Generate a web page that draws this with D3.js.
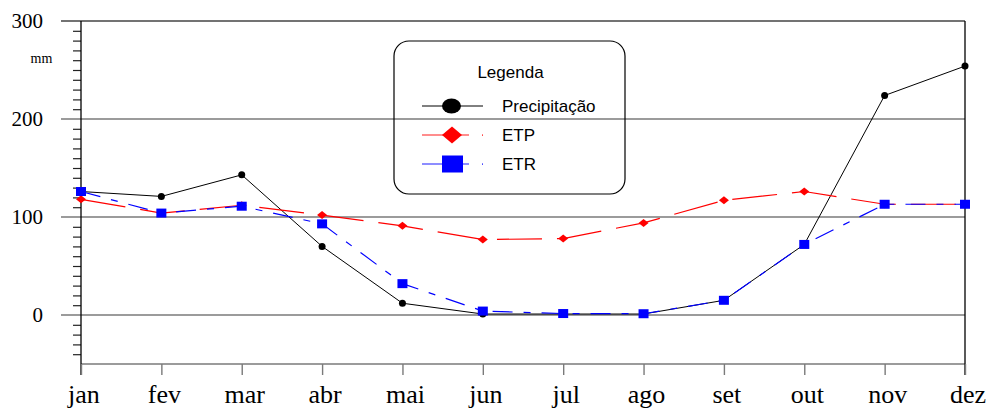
<!DOCTYPE html>
<html>
<head>
<meta charset="utf-8">
<script src="https://cdn.jsdelivr.net/npm/d3@7"></script>
<style>
  html, body { margin: 0; padding: 0; background: #fff; }
  svg { display: block; }
</style>
</head>
<body>
<svg id="chart" width="995" height="408"></svg>
<script>
// Monthly water balance: rainfall, potential and real evapotranspiration (mm)
const months = ["jan", "fev", "mar", "abr", "mai", "jun", "jul", "ago", "set", "out", "nov", "dez"];
const precipitacao = [126, 121, 143, 70, 12, 1, 1, 1, 15, 72, 224, 254];
const etp = [118, 104, 112, 102, 91, 77, 78, 94, 117, 126, 113, 113];
const etr = [126, 104, 111, 93, 32, 4, 1.5, 1.3, 15, 72, 113, 113];
const yTicks = [0, 100, 200, 300];

const SERIF = "Liberation Serif, Tinos, DejaVu Serif, Noto Serif, serif";
const SANS = "Liberation Sans, Arimo, Arial, sans-serif";

const svg = d3.select("#chart");
const plotLeft = 81, plotRight = 965, plotTop = 21, plotBottom = 364;

const x = d3.scalePoint().domain(months).range([plotLeft, plotRight]);
const y = d3.scaleLinear().domain([-50, 300]).range([plotBottom, plotTop]);

// horizontal grid lines at the labelled values
svg.append("g").selectAll("line").data(yTicks).join("line")
  .attr("x1", 61).attr("x2", plotRight)
  .attr("y1", d => y(d)).attr("y2", d => y(d))
  .attr("stroke", d => d === 300 ? "#444" : "#7a7a7a")
  .attr("stroke-width", 1.6);

// bottom frame line
svg.append("line")
  .attr("x1", plotLeft).attr("x2", plotRight)
  .attr("y1", y(-50)).attr("y2", y(-50))
  .attr("stroke", "#7a7a7a").attr("stroke-width", 1.6);

// left axis with minor ticks every 10 mm
const yAxis = d3.axisLeft(y)
  .tickValues(d3.range(-40, 300, 10).filter(v => v % 100 !== 0))
  .tickSize(8).tickFormat("");
const ya = svg.append("g").attr("transform", `translate(${plotLeft},0)`).call(yAxis);
ya.select(".domain").remove();
ya.selectAll(".tick line").attr("stroke", "#222").attr("stroke-width", 1.2);
svg.append("line").attr("x1", plotLeft).attr("x2", plotLeft)
  .attr("y1", plotTop).attr("y2", 375).attr("stroke", "#000").attr("stroke-width", 1.3);
svg.append("line").attr("x1", plotRight).attr("x2", plotRight)
  .attr("y1", plotTop).attr("y2", 375).attr("stroke", "#000").attr("stroke-width", 1.3);

// y labels
svg.append("g").selectAll("text").data(yTicks).join("text")
  .style("font-family", SERIF)
  .style("font-size", "21px")
  .attr("x", 43).attr("y", d => y(d) + 7)
  .attr("text-anchor", "end")
  .text(d => d);
svg.append("text")
  .style("font-family", SERIF)
  .style("font-size", "14px")
  .attr("x", 41.5).attr("y", 63)
  .attr("text-anchor", "middle")
  .text("mm");

// bottom month ticks and labels
const xAxis = d3.axisBottom(x).tickSize(11).tickFormat("");
const xa = svg.append("g").attr("transform", `translate(0,${plotBottom})`).call(xAxis);
xa.select(".domain").remove();
xa.selectAll(".tick line").attr("stroke", "#7a7a7a").attr("stroke-width", 1.4);
svg.append("g").selectAll("text").data(months).join("text")
  .style("font-family", SERIF)
  .style("font-size", "26px")
  .attr("x", d => x(d) + 3).attr("y", 403)
  .attr("text-anchor", "middle")
  .attr("fill", "#000")
  .text(d => d);

// series lines
const line = d3.line().x((d, i) => x(months[i])).y(d => y(d));

svg.append("path").datum(precipitacao).attr("d", line)
  .attr("fill", "none").attr("stroke", "#000").attr("stroke-width", 1);
svg.append("path").datum(etp).attr("d", line)
  .attr("fill", "none").attr("stroke", "#ff0000").attr("stroke-width", 1.2)
  .attr("stroke-dasharray", "45,15");
svg.append("path").datum(etr).attr("d", line)
  .attr("fill", "none").attr("stroke", "#0000ff").attr("stroke-width", 1.2)
  .attr("stroke-dasharray", "20,11,7,11");

// markers
svg.append("g").selectAll("circle").data(precipitacao).join("circle")
  .attr("cx", (d, i) => x(months[i])).attr("cy", d => y(d)).attr("r", 3.5)
  .attr("fill", "#000");
svg.append("g").selectAll("path").data(etp).join("path")
  .attr("d", d3.line()([[0, -4], [5, 0], [0, 4], [-5, 0]]) + "Z")
  .attr("transform", (d, i) => `translate(${x(months[i])},${y(d)})`)
  .attr("fill", "#ff0000");
svg.append("g").selectAll("rect").data(etr).join("rect")
  .attr("x", (d, i) => x(months[i]) - 5).attr("y", d => y(d) - 4.5)
  .attr("width", 10).attr("height", 9)
  .attr("fill", "#0000ff");

// legend
const lg = svg.append("g");
lg.append("rect").attr("x", 394).attr("y", 41).attr("width", 231).attr("height", 153)
  .attr("rx", 15).attr("ry", 15)
  .attr("fill", "none").attr("stroke", "#000").attr("stroke-width", 1.2);
lg.append("text")
  .style("font-family", SANS).style("font-size", "17px")
  .attr("x", 510.5).attr("y", 78).attr("text-anchor", "middle")
  .text("Legenda");

const rows = [
  { name: "Precipitação", color: "#000", y: 106 },
  { name: "ETP", color: "#ff0000", y: 135 },
  { name: "ETR", color: "#0000ff", y: 164 }
];
rows.forEach((r, i) => {
  if (i === 0) {
    lg.append("line").attr("x1", 422).attr("x2", 483).attr("y1", r.y).attr("y2", r.y)
      .attr("stroke", "#000").attr("stroke-width", 1);
    lg.append("ellipse").attr("cx", 451.5).attr("cy", r.y).attr("rx", 9.5).attr("ry", 7.5)
      .attr("fill", "#000");
  } else {
    lg.append("line").attr("x1", 422).attr("x2", 469).attr("y1", r.y).attr("y2", r.y)
      .attr("stroke", r.color).attr("stroke-opacity", 0.6).attr("stroke-width", 1.3);
    lg.append("rect").attr("x", 482).attr("y", r.y - 0.5).attr("width", 1).attr("height", 1.2)
      .attr("fill", r.color);
    if (i === 1) {
      lg.append("path")
        .attr("d", d3.line()([[0, -8.5], [10, 0], [0, 8.5], [-10, 0]]) + "Z")
        .attr("transform", `translate(452,${r.y})`)
        .attr("fill", r.color);
    } else {
      lg.append("rect").attr("x", 442).attr("y", r.y - 8.5).attr("width", 21).attr("height", 17)
        .attr("fill", r.color);
    }
  }
  lg.append("text")
    .style("font-family", SANS).style("font-size", "17px")
    .attr("x", 502).attr("y", r.y + 6)
    .text(r.name);
});
</script>
</body>
</html>
